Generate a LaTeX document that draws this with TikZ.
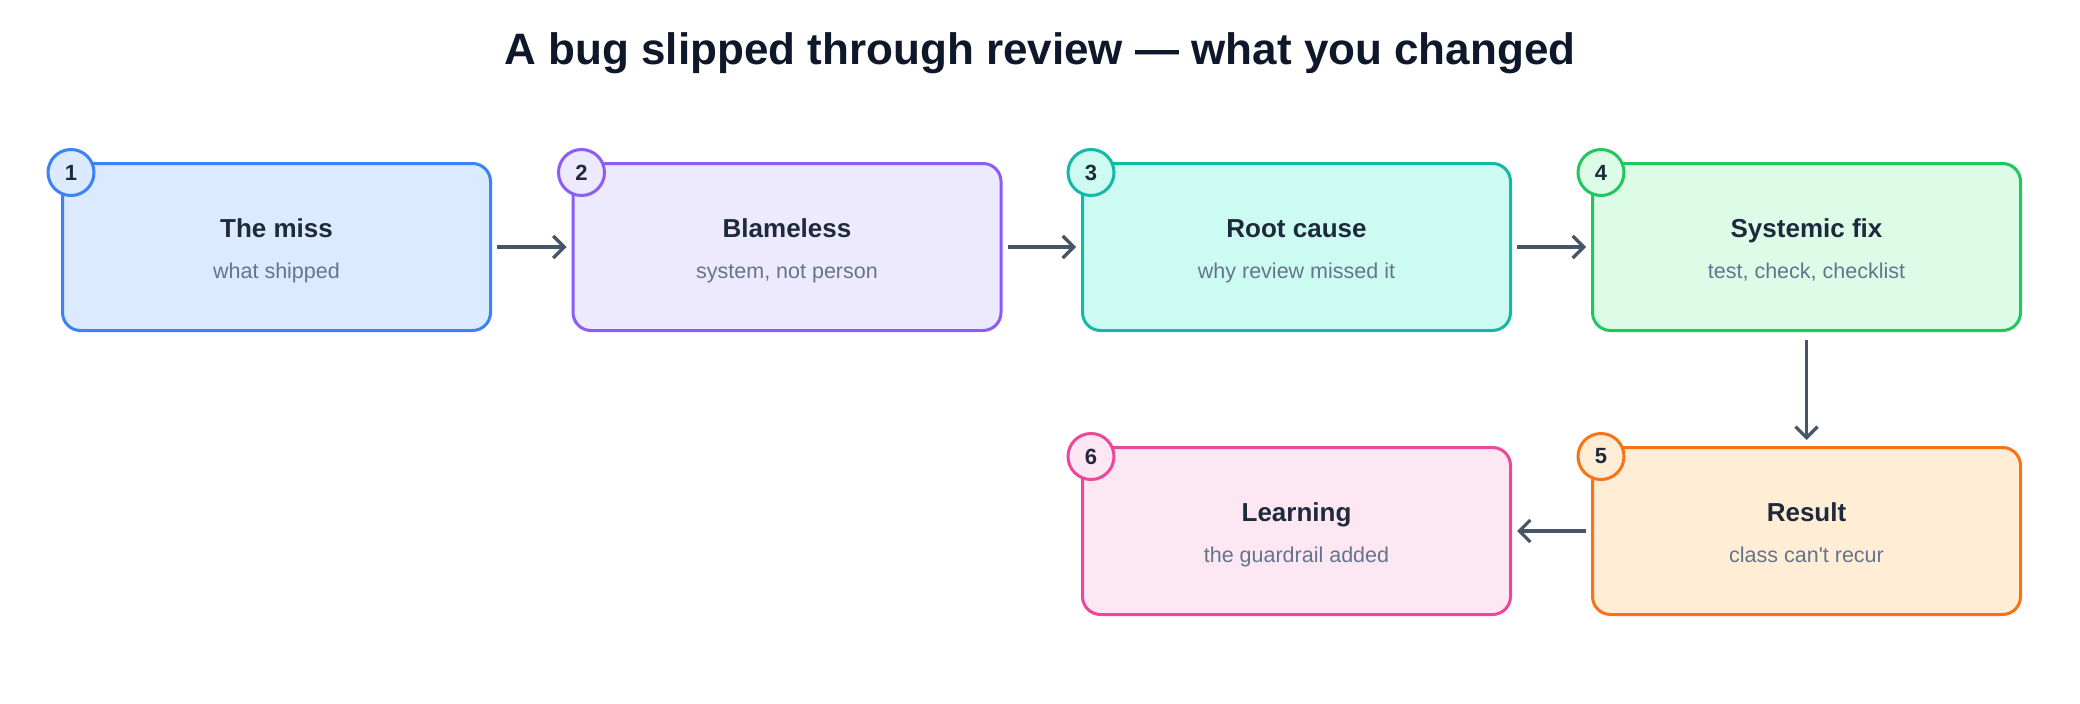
\documentclass[tikz,border=0pt]{standalone}
\usepackage{fontspec}
\setmainfont{Liberation Sans}
\usetikzlibrary{arrows.meta}
\newcommand{\straightq}{\XeTeXglyph\the\XeTeXcharglyph"27\relax}
\definecolor{cblueD}{HTML}{3B82F6}\definecolor{cblueL}{HTML}{DBEAFE}
\definecolor{cpurD}{HTML}{8B5CF6}\definecolor{cpurL}{HTML}{EDE9FE}
\definecolor{ctealD}{HTML}{14B8A6}\definecolor{ctealL}{HTML}{CCFBF1}
\definecolor{cgrnD}{HTML}{22C55E}\definecolor{cgrnL}{HTML}{DCFCE7}
\definecolor{corgD}{HTML}{F97316}\definecolor{corgL}{HTML}{FFEDD5}
\definecolor{cpnkD}{HTML}{EC4899}\definecolor{cpnkL}{HTML}{FCE7F3}
\definecolor{ctitle}{HTML}{0F172A}
\definecolor{chead}{HTML}{1E293B}
\definecolor{csub}{HTML}{64748B}
\definecolor{carrow}{HTML}{475569}
\begin{document}
\begin{tikzpicture}[x=1pt,y=-1pt,
  stepbox/.style={draw, line width=3pt, rounded corners=18pt, minimum width=428pt, minimum height=167pt, anchor=north west, inner sep=0pt},
  badge/.style={circle, draw, line width=3pt, minimum size=46pt, inner sep=0pt, font=\fontsize{22}{26}\selectfont\bfseries, text=chead},
  head/.style={font=\fontsize{26}{31}\selectfont\bfseries, text=chead},
  sub/.style={font=\fontsize{21.5}{26}\selectfont, text=csub},
  arr/.style={draw=carrow, line width=3.3pt, -{Straight Barb[length=11pt,width=22pt]}}
]
\useasboundingbox (0,0) rectangle (2080,704);
\node[font=\fontsize{44}{52}\selectfont\bfseries, text=ctitle] (title) at (1040,53) {A bug slipped through review — what you changed};

\node[stepbox, draw=cblueD, fill=cblueL] (b1) at (61,162) {};
\node[stepbox, draw=cpurD, fill=cpurL] (b2) at (571.5,162) {};
\node[stepbox, draw=ctealD, fill=ctealL] (b3) at (1081,162) {};
\node[stepbox, draw=cgrnD, fill=cgrnL] (b4) at (1591,162) {};
\node[stepbox, draw=corgD, fill=corgL] (b5) at (1591,446) {};
\node[stepbox, draw=cpnkD, fill=cpnkL] (b6) at (1081,446) {};

\foreach \b/\h/\s in {b1/The miss/what shipped, b2/Blameless/{system, not person}, b3/Root cause/why review missed it, b4/Systemic fix/{test, check, checklist}, b5/Result/{class can\straightq t recur}, b6/Learning/the guardrail added}{
  \node[head, anchor=base] (\b h) at ([yshift=-75pt]\b.north) {\h};
  \node[sub, anchor=base] (\b s) at ([yshift=-116pt]\b.north) {\s};
}

\node[badge, draw=cblueD, fill=cblueL] (n1) at ([shift={(10pt,-10.5pt)}]b1.north west) {1};
\node[badge, draw=cpurD, fill=cpurL] (n2) at ([shift={(10pt,-10.5pt)}]b2.north west) {2};
\node[badge, draw=ctealD, fill=ctealL] (n3) at ([shift={(10pt,-10.5pt)}]b3.north west) {3};
\node[badge, draw=cgrnD, fill=cgrnL] (n4) at ([shift={(10pt,-10.5pt)}]b4.north west) {4};
\node[badge, draw=corgD, fill=corgL] (n5) at ([shift={(10pt,-10.5pt)}]b5.north west) {5};
\node[badge, draw=cpnkD, fill=cpnkL] (n6) at ([shift={(10pt,-10.5pt)}]b6.north west) {6};

\draw[arr] ([xshift=5pt]b1.east) -- ([xshift=-5pt]b2.west);
\draw[arr] ([xshift=5pt]b2.east) -- ([xshift=-5pt]b3.west);
\draw[arr] ([xshift=5pt]b3.east) -- ([xshift=-5pt]b4.west);
\draw[arr] ([yshift=-8pt]b4.south) -- ([yshift=6pt]b5.north);
\draw[arr] ([xshift=-5pt]b5.west) -- ([xshift=5pt]b6.east);
\end{tikzpicture}
\end{document}
